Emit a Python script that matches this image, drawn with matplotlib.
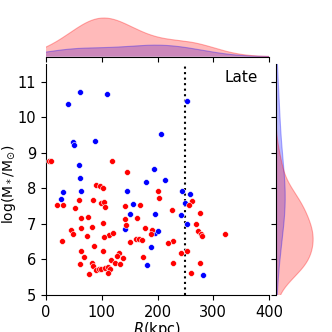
import numpy as np
import matplotlib
matplotlib.use("Agg")
import matplotlib.pyplot as plt

# Late-type satellites: projected distance R (kpc) and log stellar mass
red_R = [6, 9.6, 118, 145, 90, 96.7, 102.7, 201, 19.7, 31, 51.3, 59, 83.6, 98.5,
         103.3, 105, 202.4, 141, 167.8, 262, 256.7, 226.3, 275.8, 62.7, 75.8, 142,
         163, 102.7, 142.7, 268.7, 62, 82.4, 44.8, 48.4, 176.7, 189.3, 188, 273.4,
         277.6, 280, 321.8, 72.8, 112.8, 120.6, 104, 29.3, 149.9, 160.6, 167.2,
         172.5, 227.5, 218.5, 86, 62, 102, 68, 130.7, 127.2, 173.7, 138, 241.8,
         252.5, 61, 82.4, 84.8, 115.8, 123, 133, 90, 94.3, 99, 105.7, 110.4, 114.6,
         111.6, 77.6, 226.9, 275.8, 260.3]
red_M = [8.77, 8.78, 8.78, 8.47, 8.10, 8.07, 8.01, 7.92, 7.52, 7.52, 7.46, 7.66,
         7.68, 7.58, 7.63, 7.49, 7.72, 7.51, 7.52, 7.64, 7.54, 7.40, 7.32, 7.18,
         7.20, 7.13, 7.18, 7.03, 6.98, 7.01, 6.88, 6.92, 6.82, 6.72, 6.88, 6.84,
         6.73, 6.81, 6.73, 6.66, 6.71, 6.66, 6.70, 6.74, 6.64, 6.52, 6.50, 6.59,
         6.59, 6.55, 6.52, 6.45, 6.37, 6.25, 6.23, 6.08, 6.18, 6.11, 6.07, 6.04,
         6.18, 6.23, 5.87, 5.91, 5.83, 5.98, 5.91, 5.87, 5.70, 5.74, 5.74, 5.76,
         5.79, 5.73, 5.61, 5.59, 5.90, 5.90, 5.62]

blue_R = [39.4, 61.5, 109.9, 252.5, 49, 49.6, 87.2, 206, 58.5, 61.5, 192.8, 213.7,
          179.7, 30.4, 63.3, 145, 26.3, 244.8, 258.5, 249, 155.8, 151, 195.2,
          241.8, 253.7, 141.5, 195.8, 201.2, 187.5, 182, 282.4]
blue_M = [10.37, 10.72, 10.66, 10.45, 9.30, 9.22, 9.32, 9.53, 8.66, 8.29, 8.55,
          8.23, 8.19, 7.91, 7.92, 7.92, 7.70, 7.94, 7.84, 7.60, 7.56, 7.27, 7.27,
          7.26, 7.01, 6.87, 6.75, 6.79, 6.36, 5.84, 5.57]

R_cut = 250
xlim = (0, 400)
ylim = (5, 11.5)


def kde(values, weight, bw_adjust=1.35, gridsize=200, cut=3):
    # gaussian kde with scott bandwidth, scaled by group fraction
    v = np.asarray(values, float)
    bw = bw_adjust * v.std(ddof=1) * len(v) ** (-1 / 5)
    grid = np.linspace(v.min() - cut * bw, v.max() + cut * bw, gridsize)
    d = np.exp(-0.5 * ((grid[:, None] - v[None, :]) / bw) ** 2).sum(1)
    d = d / (len(v) * bw * np.sqrt(2 * np.pi))
    return grid, d * weight


plt.rcParams['font.size'] = 10.5
fig = plt.figure(figsize=(3.32, 3.32), dpi=100)
ax = fig.add_axes([0.1386, 0.1114, 0.6717, 0.6958])
ax_top = fig.add_axes([0.1386, 0.8292, 0.6717, 0.1224], sharex=ax)
ax_right = fig.add_axes([0.8313, 0.1114, 0.1175, 0.6958], sharey=ax)

ax.scatter(blue_R, blue_M, s=18, c='blue', edgecolors='white', linewidths=0.4, zorder=3)
ax.scatter(red_R, red_M, s=18, c='red', edgecolors='white', linewidths=0.4, zorder=3)
ax.axvline(R_cut, color='black', ls=':', lw=1.5)
ax.text(0.95, 0.94, 'Late', transform=ax.transAxes, ha='right', va='center', fontsize=11)

ax.set_xlim(*xlim)
ax.set_ylim(*ylim)
ax.set_xticks([0, 100, 200, 300, 400])
ax.set_yticks([5, 6, 7, 8, 9, 10, 11])
ax.set_xlabel('$R$(kpc)', fontsize=10.5, labelpad=0)
ax.set_ylabel(r'log(M$_*$/M$_{\odot}$)', fontsize=10)
ax.yaxis.set_label_coords(-0.125, 0.48)
for s in ['top', 'right']:
    ax.spines[s].set_visible(False)

n_all = len(red_R) + len(blue_R)
alpha = 0.27
for vals_x, vals_y, col in [(blue_R, blue_M, 'blue'), (red_R, red_M, 'red')]:
    w = len(vals_x) / n_all
    gx, dx = kde(vals_x, w)
    ax_top.fill_between(gx, 0, dx, facecolor=col, alpha=alpha, edgecolor='none')
    ax_top.plot(gx, dx, color=col, alpha=0.3, lw=0.8)
    gy, dy = kde(vals_y, w)
    ax_right.fill_betweenx(gy, 0, dy, facecolor=col, alpha=alpha, edgecolor='none')
    ax_right.plot(dy, gy, color=col, alpha=0.3, lw=0.8)

ax_top.set_ylim(bottom=0)
ax_right.set_xlim(left=0)
ax_top.tick_params(labelbottom=False, left=False, labelleft=False)
ax_right.tick_params(labelleft=False, bottom=False, labelbottom=False)
for s in ['top', 'right', 'left']:
    ax_top.spines[s].set_visible(False)
for s in ['top', 'right', 'bottom']:
    ax_right.spines[s].set_visible(False)
ax.set_xlim(*xlim)
ax.set_ylim(*ylim)

fig.savefig('out.png', dpi=100)
